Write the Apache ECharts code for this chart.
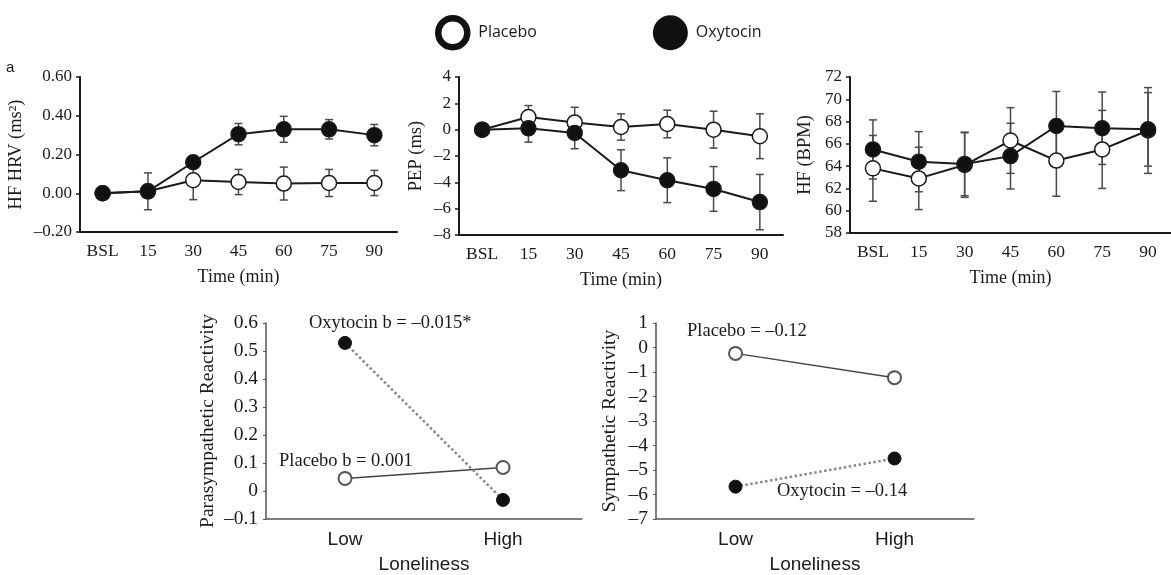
<!DOCTYPE html>
<html>
<head>
<meta charset="utf-8">
<script src="https://cdn.jsdelivr.net/npm/echarts@6/dist/echarts.min.js"></script>
<style>
  html, body { margin: 0; padding: 0; background: #fff; }
  #chart { width: 1171px; height: 575px; }
</style>
</head>
<body>
<div id="chart"></div>
<script>
// time points for the three top panels
var timeCats = ['BSL', '15', '30', '45', '60', '75', '90'];
var lonelyCats = ['Low', 'High'];

// HF HRV (ms2)
var hrvPlacebo = [0.00, 0.01, 0.067, 0.058, 0.05, 0.053, 0.053];
var hrvPlaceboErr = [0, 0.095, 0.10, 0.065, 0.085, 0.07, 0.065];
var hrvOxytocin = [0.00, 0.01, 0.16, 0.305, 0.33, 0.33, 0.30];
var hrvOxytocinErr = [0, 0.02, 0.02, 0.055, 0.067, 0.05, 0.055];

// PEP (ms)
var pepPlacebo = [0, 0.96, 0.55, 0.2, 0.43, 0, -0.5];
var pepPlaceboErr = [0, 0.87, 1.15, 1.0, 1.05, 1.4, 1.7];
var pepOxytocin = [0, 0.1, -0.25, -3.08, -3.84, -4.5, -5.5];
var pepOxytocinErr = [0, 1.05, 1.2, 1.55, 1.7, 1.7, 2.1];

// HF (BPM)
var hrPlacebo = [63.8, 62.9, 64.1, 66.3, 64.5, 65.5, 67.2];
var hrPlaceboErr = [2.95, 2.8, 2.9, 2.95, 3.2, 3.5, 3.85];
var hrOxytocin = [65.5, 64.4, 64.2, 64.9, 67.6, 67.4, 67.3];
var hrOxytocinErr = [2.65, 2.7, 2.85, 2.95, 3.1, 3.25, 3.3];

// reactivity by loneliness
var paraPlacebo = [0.045, 0.084];
var paraOxytocin = [0.529, -0.032];
var sympPlacebo = [-0.24, -1.23];
var sympOxytocin = [-5.68, -4.53];

var serif = 'Liberation Serif';
var sans = 'Liberation Sans';
var ink = '#1a1a1a';

function dash(v) { return String(v).replace('-', '\u2013'); }

function errData(mean, err) {
  return mean.map(function (m, i) { return [i, m - err[i], m + err[i]]; });
}

function errRender(params, api) {
  var x = api.value(0);
  var top = api.coord([x, api.value(2)]);
  var bot = api.coord([x, api.value(1)]);
  var w = 4;
  var st = { stroke: '#4a4a4a', lineWidth: 1.5 };
  return {
    type: 'group',
    children: [
      { type: 'line', shape: { x1: top[0], y1: top[1], x2: bot[0], y2: bot[1] }, style: st },
      { type: 'line', shape: { x1: top[0] - w, y1: top[1], x2: top[0] + w, y2: top[1] }, style: st },
      { type: 'line', shape: { x1: bot[0] - w, y1: bot[1], x2: bot[0] + w, y2: bot[1] }, style: st }
    ]
  };
}

function topX(idx) {
  return {
    type: 'category', gridIndex: idx, data: timeCats, boundaryGap: true,
    name: 'Time (min)', nameLocation: 'middle', nameGap: 36,
    nameTextStyle: { fontFamily: serif, fontSize: 18, color: ink },
    axisLine: { onZero: false, lineStyle: { color: ink, width: 2 } },
    axisTick: { length: 4, lineStyle: { color: ink, width: 1.5 } },
    axisLabel: { fontFamily: serif, fontSize: 17.5, color: ink, margin: 10 }
  };
}

function topY(idx, min, max, interval, name, gap, fmt) {
  return {
    type: 'value', gridIndex: idx, min: min, max: max, interval: interval,
    name: name, nameLocation: 'middle', nameRotate: 90, nameGap: gap,
    nameTextStyle: { fontFamily: serif, fontSize: 18.5, color: ink },
    splitLine: { show: false },
    axisLine: { show: true, onZero: false, lineStyle: { color: ink, width: 2 } },
    axisTick: { show: true, length: 4, lineStyle: { color: ink, width: 1.5 } },
    axisLabel: { fontFamily: serif, fontSize: 17, color: ink, margin: 8, formatter: fmt }
  };
}

function botX(idx) {
  return {
    type: 'category', gridIndex: idx, data: lonelyCats, boundaryGap: true,
    name: 'Loneliness', nameLocation: 'middle', nameGap: 36,
    nameTextStyle: { fontFamily: sans, fontSize: 19, color: ink },
    axisLine: { onZero: false, lineStyle: { color: '#555', width: 1.5 } },
    axisTick: { length: 4, lineStyle: { color: '#555', width: 1.5 } },
    axisLabel: { fontFamily: sans, fontSize: 19, color: ink, margin: 11 }
  };
}

function botY(idx, min, max, interval, name, gap, fmt) {
  return {
    type: 'value', gridIndex: idx, min: min, max: max, interval: interval,
    name: name, nameLocation: 'middle', nameRotate: 90, nameGap: gap,
    nameTextStyle: { fontFamily: serif, fontSize: 19.5, color: ink },
    splitLine: { show: false },
    axisLine: { show: true, onZero: false, lineStyle: { color: '#555', width: 1.5 } },
    axisTick: { show: true, length: 3, lineStyle: { color: '#555', width: 1 } },
    axisLabel: { fontFamily: serif, fontSize: 19.5, color: ink, margin: 8, formatter: fmt }
  };
}

function topLine(name, idx, data, filled) {
  return {
    name: name, type: 'line', xAxisIndex: idx, yAxisIndex: idx, data: data,
    symbol: 'circle', symbolSize: 15, z: filled ? 4 : 3,
    lineStyle: { color: ink, width: 2 },
    itemStyle: { color: filled ? '#111' : '#fff', borderColor: ink, borderWidth: 1.5 }
  };
}

function errSeries(name, idx, mean, err) {
  return {
    name: name, type: 'custom', xAxisIndex: idx, yAxisIndex: idx,
    renderItem: errRender, data: errData(mean, err), z: 2
  };
}

var chart = echarts.init(document.getElementById('chart'));

chart.setOption({
  animation: false,
  backgroundColor: '#fff',
  legend: {
    left: 430, top: 10, itemWidth: 29, itemHeight: 29, itemGap: 116,
    icon: 'circle',
    textStyle: { fontFamily: 'Open Sans', fontSize: 16, color: ink, padding: [0, 0, 0, 6] },
    data: [
      { name: 'Placebo', itemStyle: { color: '#fff', borderColor: '#111', borderWidth: 6.5 } },
      { name: 'Oxytocin', itemStyle: { color: '#111', borderColor: '#111', borderWidth: 6 } }
    ]
  },
  grid: [
    { left: 80, top: 77, width: 317, height: 155 },
    { left: 459, top: 77, width: 324, height: 158 },
    { left: 850, top: 77, width: 322, height: 156 },
    { left: 266, top: 323, width: 316, height: 196 },
    { left: 656, top: 323, width: 318, height: 197 }
  ],
  xAxis: [topX(0), topX(1), topX(2), botX(3), botX(4)],
  yAxis: [
    topY(0, -0.2, 0.6, 0.2, 'HF HRV (ms\u00b2)', 54, function (v) { return dash(v.toFixed(2)); }),
    topY(1, -8, 4, 2, 'PEP (ms)', 33, function (v) { return dash(v); }),
    topY(2, 58, 72, 2, 'HF (BPM)', 35, function (v) { return v; }),
    botY(3, -0.1, 0.6, 0.1, 'Parasympathetic Reactivity', 48, function (v) {
      var r = Math.round(v * 10) / 10;
      return r === 0 ? '0' : dash(r.toFixed(1));
    }),
    botY(4, -7, 1, 1, 'Sympathetic Reactivity', 36, function (v) { return dash(v); })
  ],
  series: [
    errSeries('Placebo', 0, hrvPlacebo, hrvPlaceboErr),
    errSeries('Oxytocin', 0, hrvOxytocin, hrvOxytocinErr),
    topLine('Placebo', 0, hrvPlacebo, false),
    topLine('Oxytocin', 0, hrvOxytocin, true),

    errSeries('Placebo', 1, pepPlacebo, pepPlaceboErr),
    errSeries('Oxytocin', 1, pepOxytocin, pepOxytocinErr),
    topLine('Placebo', 1, pepPlacebo, false),
    topLine('Oxytocin', 1, pepOxytocin, true),

    errSeries('Placebo', 2, hrPlacebo, hrPlaceboErr),
    errSeries('Oxytocin', 2, hrOxytocin, hrOxytocinErr),
    topLine('Placebo', 2, hrPlacebo, false),
    topLine('Oxytocin', 2, hrOxytocin, true),

    {
      name: 'Placebo', type: 'line', xAxisIndex: 3, yAxisIndex: 3, data: paraPlacebo,
      symbol: 'circle', symbolSize: 13,
      lineStyle: { color: '#444', width: 1.5 },
      itemStyle: { color: '#fff', borderColor: '#555', borderWidth: 2 }
    },
    {
      name: 'Oxytocin', type: 'line', xAxisIndex: 3, yAxisIndex: 3, data: paraOxytocin,
      symbol: 'circle', symbolSize: 13,
      lineStyle: { color: '#888', width: 2.5, type: 'dotted' },
      itemStyle: { color: '#111', borderColor: '#111', borderWidth: 1 }
    },
    {
      name: 'Placebo', type: 'line', xAxisIndex: 4, yAxisIndex: 4, data: sympPlacebo,
      symbol: 'circle', symbolSize: 13,
      lineStyle: { color: '#444', width: 1.5 },
      itemStyle: { color: '#fff', borderColor: '#555', borderWidth: 2 }
    },
    {
      name: 'Oxytocin', type: 'line', xAxisIndex: 4, yAxisIndex: 4, data: sympOxytocin,
      symbol: 'circle', symbolSize: 13,
      lineStyle: { color: '#888', width: 2.5, type: 'dotted' },
      itemStyle: { color: '#111', borderColor: '#111', borderWidth: 1 }
    }
  ],
  graphic: [
    { type: 'text', left: 6, top: 60, style: { text: 'a', font: '15px "Liberation Sans"', fill: ink } },
    { type: 'text', left: 309, top: 314, style: { text: 'Oxytocin b = \u20130.015*', font: '18.5px "Liberation Serif"', fill: ink } },
    { type: 'text', left: 279, top: 452, style: { text: 'Placebo b = 0.001', font: '18.5px "Liberation Serif"', fill: ink } },
    { type: 'text', left: 687, top: 322, style: { text: 'Placebo = \u20130.12', font: '18.5px "Liberation Serif"', fill: ink } },
    { type: 'text', left: 777, top: 482, style: { text: 'Oxytocin = \u20130.14', font: '18.5px "Liberation Serif"', fill: ink } }
  ]
});
</script>
</body>
</html>
